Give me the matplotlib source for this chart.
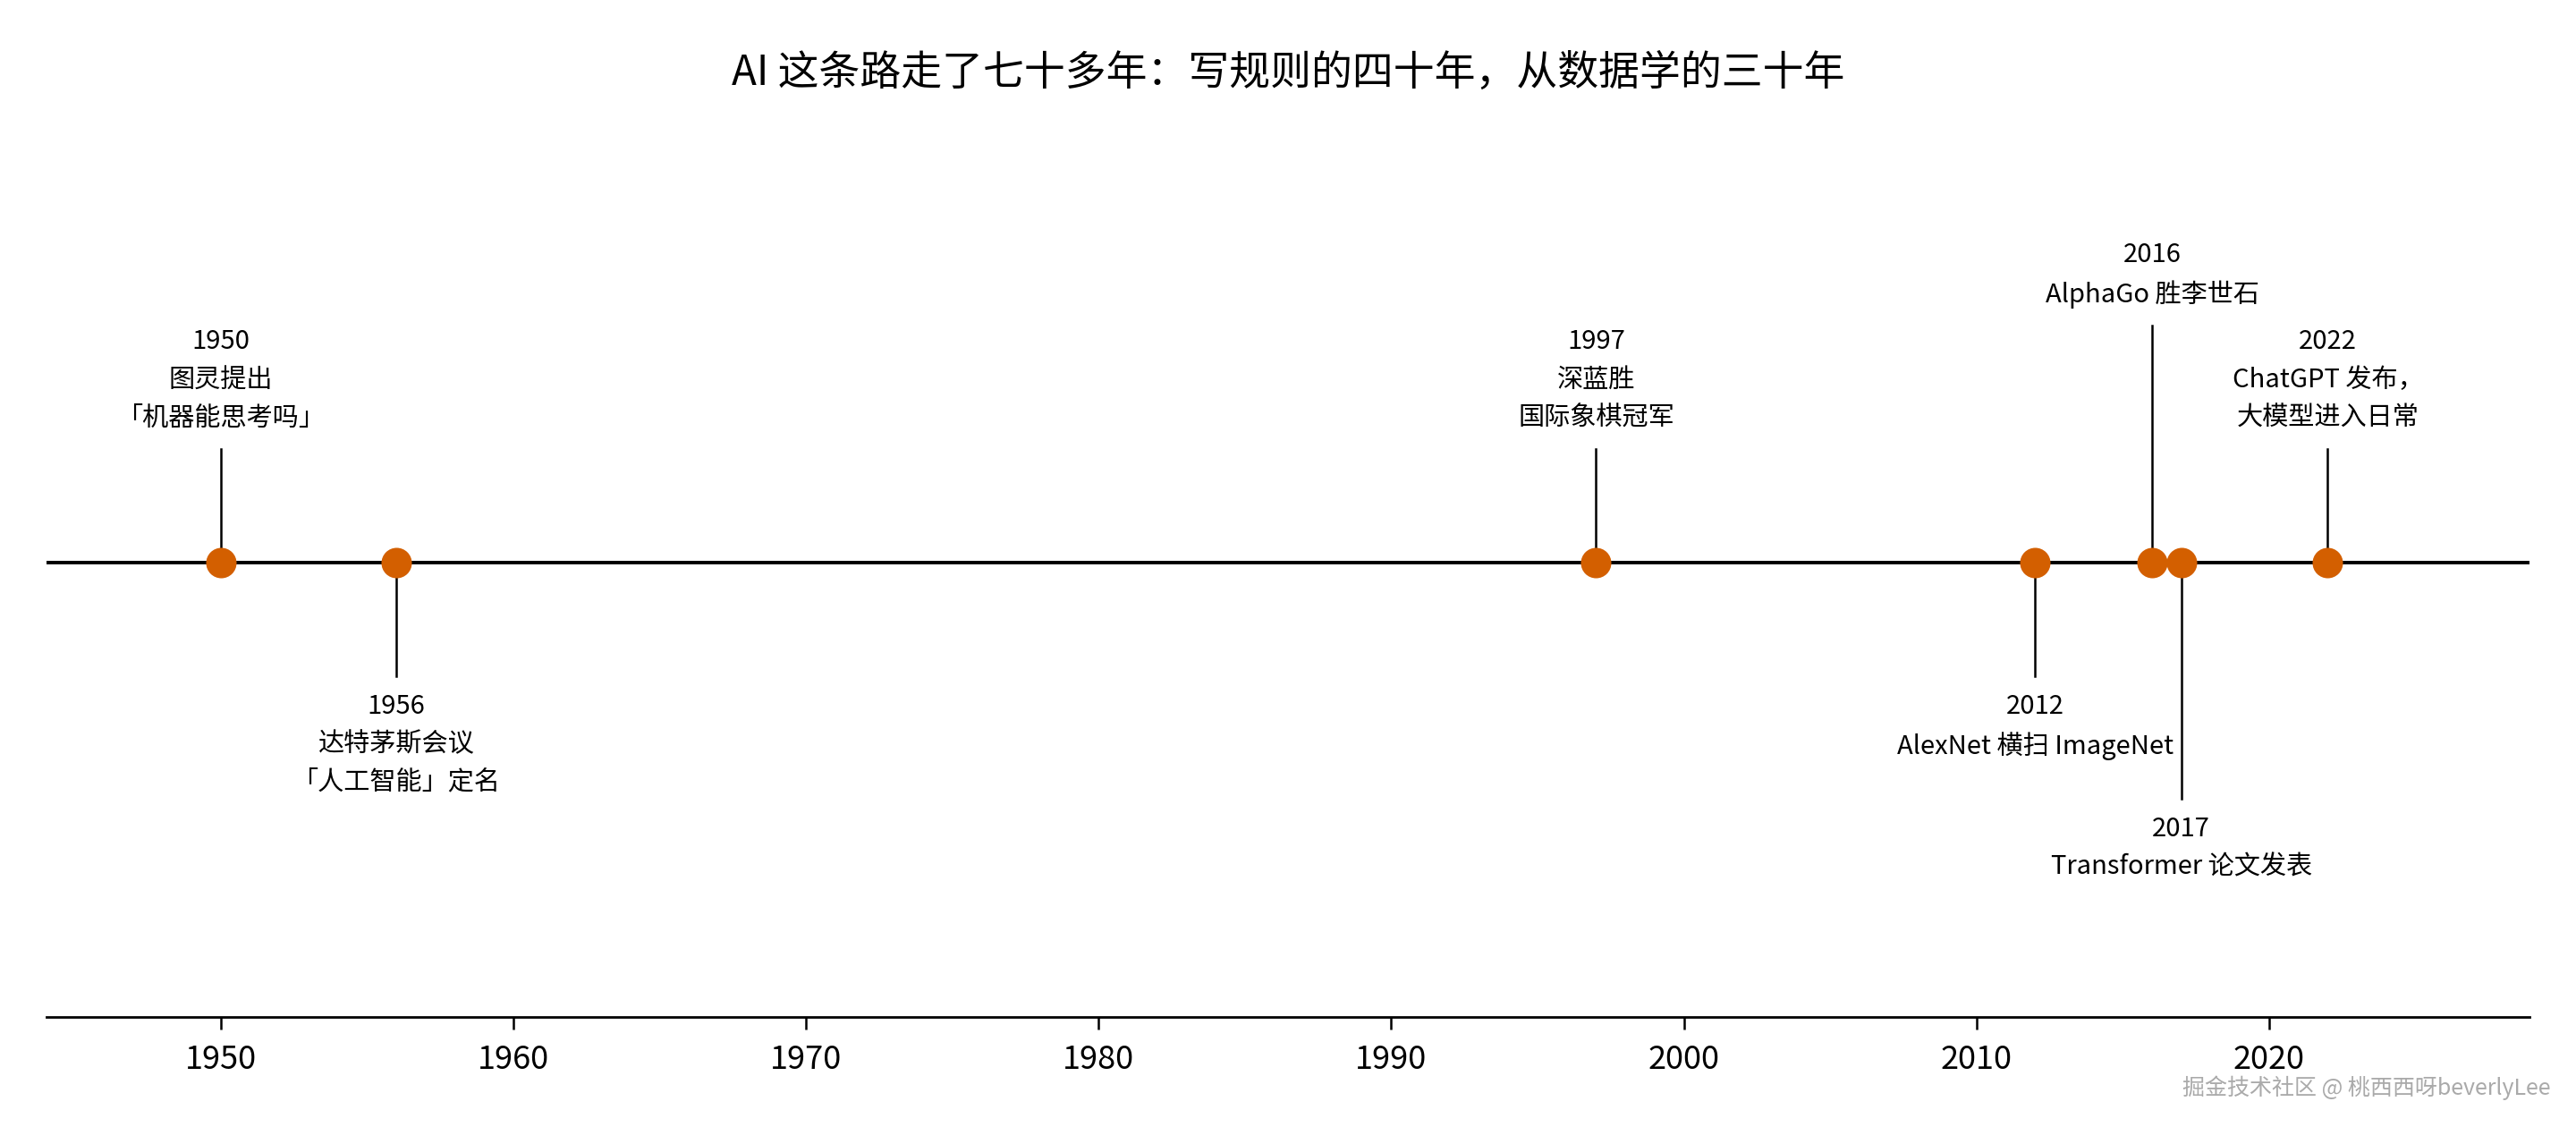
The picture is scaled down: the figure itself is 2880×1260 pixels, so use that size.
import matplotlib
matplotlib.use("Agg")
import matplotlib.pyplot as plt

plt.rcParams['font.family'] = ['Noto Sans CJK SC', 'DejaVu Sans']

years = [1950, 1956, 1997, 2012, 2016, 2017, 2022]
labels = ["1950\n图灵提出\n「机器能思考吗」",
          "1956\n达特茅斯会议\n「人工智能」定名",
          "1997\n深蓝胜\n国际象棋冠军",
          "2012\nAlexNet 横扫 ImageNet",
          "2016\nAlphaGo 胜李世石",
          "2017\nTransformer 论文发表",
          "2022\nChatGPT 发布，\n大模型进入日常"]
heights = [1, -1, 1, -1, 2.08, -2.08, 1]
ticks = [1950, 1960, 1970, 1980, 1990, 2000, 2010, 2020]

fig = plt.figure(figsize=(14.4, 6.3), dpi=200)
ax = fig.add_axes([0.018, 0.098, 0.964, 0.771])
ax.set_xlim(1944.05, 2028.9)
ax.set_ylim(-4.0, 3.65)
ax.axhline(0, color='black', lw=1.4, zorder=1)
for y, h, lab in zip(years, heights, labels):
    ax.plot([y, y], [0, h], color='black', lw=0.9, zorder=1)
    if h > 0:
        ax.text(y, h + 0.15, lab, ha='center', va='bottom', fontsize=10.5, linespacing=1.55)
    else:
        ax.text(y, h - 0.15, lab, ha='center', va='top', fontsize=10.5, linespacing=1.55)
ax.scatter(years, [0]*len(years), s=150, color='#D35F00', zorder=3, linewidths=0)

for s in ['top', 'right', 'left']:
    ax.spines[s].set_visible(False)
ax.spines['bottom'].set_linewidth(1.0)
ax.set_yticks([])
ax.set_xticks(ticks)
ax.set_xticklabels([str(t) for t in ticks])
ax.tick_params(axis='x', labelsize=13, length=5, width=0.9, pad=6)

fig.text(0.5, 0.935, "AI 这条路走了七十多年：写规则的四十年，从数据学的三十年",
         ha='center', va='center', fontsize=16.5)
fig.text(0.99, 0.035, "掘金技术社区 @ 桃西西呀beverlyLee", ha='right', va='center',
         fontsize=9, color='#aaaaaa')

fig.savefig("out.png", dpi=200)
